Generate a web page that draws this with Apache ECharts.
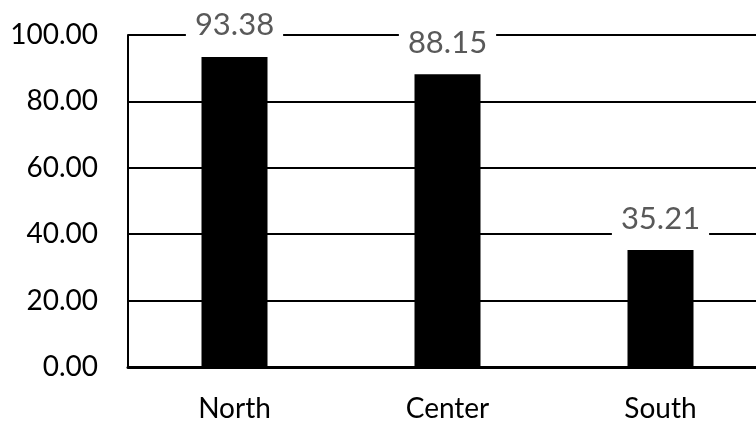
<!DOCTYPE html>
<html><head><meta charset="utf-8">
<script src="https://cdn.jsdelivr.net/npm/echarts@6/dist/echarts.min.js"></script>
<style>html,body{margin:0;padding:0;background:#fff;overflow:hidden;width:756px;height:423px}#c{width:767px;height:423px}</style>
</head><body><div id="c"></div>
<script>
var categories = ['North', 'Center', 'South'];
var values = [93.38, 88.15, 35.21];
var yTicks = [0, 20, 40, 60, 80, 100];

var chart = echarts.init(document.getElementById('c'), null, {renderer: 'canvas'});
var font = 'Lato, "Open Sans", sans-serif';
chart.setOption({
  animation: false,
  backgroundColor: '#fff',
  grid: {left: 128, right: 0, top: 35, bottom: 56, containLabel: false},
  xAxis: {
    type: 'category',
    data: categories,
    axisLine: {lineStyle: {color: '#000', width: 3}},
    axisTick: {show: false},
    axisLabel: {color: '#000', fontSize: 28, fontFamily: font, margin: 28}
  },
  yAxis: {
    type: 'value',
    min: yTicks[0], max: yTicks[yTicks.length - 1], interval: 20,
    axisLine: {show: true, lineStyle: {color: '#000', width: 2}},
    axisTick: {show: false},
    splitLine: {lineStyle: {color: '#000', width: 2}},
    axisLabel: {color: '#000', fontSize: 28, fontFamily: font, margin: 30,
      formatter: function (v) { return v.toFixed(2); }}
  },
  series: [{
    type: 'bar',
    data: values,
    barWidth: 66,
    itemStyle: {color: '#000'},
    z: 3,
    label: {
      show: true, position: 'top', distance: 14,
      color: '#595959', fontSize: 31, fontFamily: font,
      backgroundColor: '#fff', padding: [2, 9],
      formatter: function (p) { return p.value.toFixed(2); }
    }
  }]
});
</script></body></html>
